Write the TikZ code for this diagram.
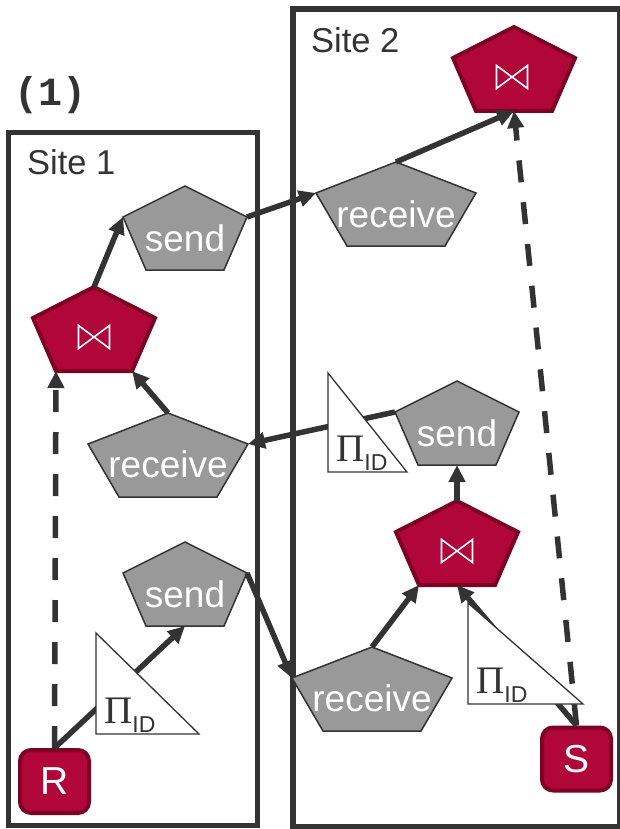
\documentclass[tikz,border=0pt]{standalone}
\usepackage{fontspec}
\setmainfont{Liberation Sans}
\newfontfamily\monob{Liberation Mono}
\newfontfamily\pifont{Liberation Serif}
\usetikzlibrary{arrows.meta,calc}
\definecolor{dk}{HTML}{333333}
\definecolor{gr}{HTML}{999999}
\definecolor{rd}{HTML}{B0063A}
\definecolor{rdb}{HTML}{7D0025}
\tikzset{
  sitebox/.style={draw=dk, line width=5.5pt},
  pshape/.style={draw=dk, line width=1.5pt, fill=gr, line join=miter},
  jshape/.style={draw=rdb, line width=4pt, fill=rd, line join=miter},
  ptext/.style={text=white, font=\fontsize{37}{37}\selectfont, inner sep=0pt, anchor=base},
  sitelab/.style={text=dk, font=\fontsize{34.5}{34.5}\selectfont, inner sep=0pt, anchor=base west},
  rbox/.style={draw=rdb, line width=4pt, fill=rd, rounded corners=11pt, minimum width=69pt, minimum height=63pt, inner sep=0pt, text=white, font=\fontsize{39}{39}\selectfont},
  flow/.style={draw=dk, line width=5.5pt, -{Triangle[length=17pt,width=16pt]}},
  dflow/.style={flow, dash pattern=on 22pt off 20pt},
  projtri/.style={draw=dk, line width=1.3pt, fill=white, line join=miter},
  bow/.style={draw=white, line width=1.6pt, line join=miter},
}
% pentagon: name, apex x, apex y, shoulder half-width, bottom half-width, style
\newcommand{\mypent}[6]{%
  \path[#6] (#2,#3) coordinate (#1-a) -- (#2+#4,#3+31) coordinate (#1-r)
    -- (#2+#5,#3+84) coordinate (#1-br) -- (#2-#5,#3+84) coordinate (#1-bl)
    -- (#2-#4,#3+31) coordinate (#1-l) -- cycle;
  \coordinate (#1-b) at (#2,#3+84);
}
\newcommand{\mybow}[2]{%
  \draw[bow] (#1-15.5,#2-11.5) -- (#1-15.5,#2+11.5) -- (#1+15.5,#2-11.5) -- (#1+15.5,#2+11.5) -- cycle;
}
% projection triangle: name, bottom-left x, y, width, height
\newcommand{\myproj}[5]{%
  \draw[projtri] (#2,#3-#5) coordinate (#1-t) -- (#2,#3) -- (#2+#4,#3) -- cycle;
  \node[anchor=base west, inner sep=0pt, text=dk] (#1) at (#2+8,#3-11)
    {\pifont\fontsize{39}{39}\selectfont Π\raisebox{-9pt}{\rmfamily\fontsize{23}{23}\selectfont ID}};
}
\begin{document}
\begin{tikzpicture}[x=1pt,y=-1pt]
\useasboundingbox (0,0) rectangle (619,829);
% site boxes
\draw[sitebox] (8.5,132.5) rectangle (257.5,825.5);
\draw[sitebox] (293,9) rectangle (620,826.5);
\node[sitelab] (site1) at (27,175) {Site 1};
\node[sitelab] (site2) at (311,53) {Site 2};
\node[anchor=base west, inner sep=0pt, text=dk, font=\monob\bfseries\fontsize{40}{40}\selectfont] (lbl) at (14,106) {(1)};
% pentagons
\mypent{send1}{185}{186}{62}{39}{pshape}
\mypent{join1}{94}{287}{61}{38}{jshape}
\mypent{receive1}{168}{413}{80}{49}{pshape}
\mypent{send3}{185}{542}{62}{39}{pshape}
\mypent{join3}{514}{27}{61}{38}{jshape}
\mypent{receive2}{396}{162}{80}{49}{pshape}
\mypent{send2}{457}{381}{62}{39}{pshape}
\mypent{join2}{457}{501}{61}{38}{jshape}
\mypent{receive3}{372}{647}{80}{49}{pshape}
\mybow{94}{337}
\mybow{512}{77}
\mybow{457}{551}
\node[ptext] (send1) at (185,251) {send};
\node[ptext] (send2) at (457,446) {send};
\node[ptext] (send3) at (185,607) {send};
\node[ptext] (receive1) at (168,477) {receive};
\node[ptext] (receive2) at (396,227) {receive};
\node[ptext] (receive3) at (372,711) {receive};
% base relations
\node[rbox] (R) at (54.5,781.5) {R};
\node[rbox] (S) at (576.5,759) {S};
% connectors
\draw[flow] (R.north) -- (send3-b);
\draw[dflow] (R.north) -- (join1-bl);
\draw[flow] (receive1-a) -- (join1-br);
\draw[flow] (join1-a) -- (send1-l);
\draw[flow] (send1-r) -- (receive2-l);
\draw[flow] (receive2-a) -- (join3-b);
\draw[dflow] (S.north) -- (join3-b);
\draw[flow] (S.north) -- (join2-b);
\draw[flow] (receive3-a) -- (join2-bl);
\draw[flow] (join2-a) -- (send2-b);
\draw[flow] (send2-l) -- (receive1-r);
\draw[flow] (send3-r) -- (receive3-l);
% projections
\myproj{proj1}{96}{734}{103}{101}
\myproj{proj2}{328}{472}{79}{99}
\myproj{proj3}{468}{704}{115}{101}
\end{tikzpicture}
\end{document}
